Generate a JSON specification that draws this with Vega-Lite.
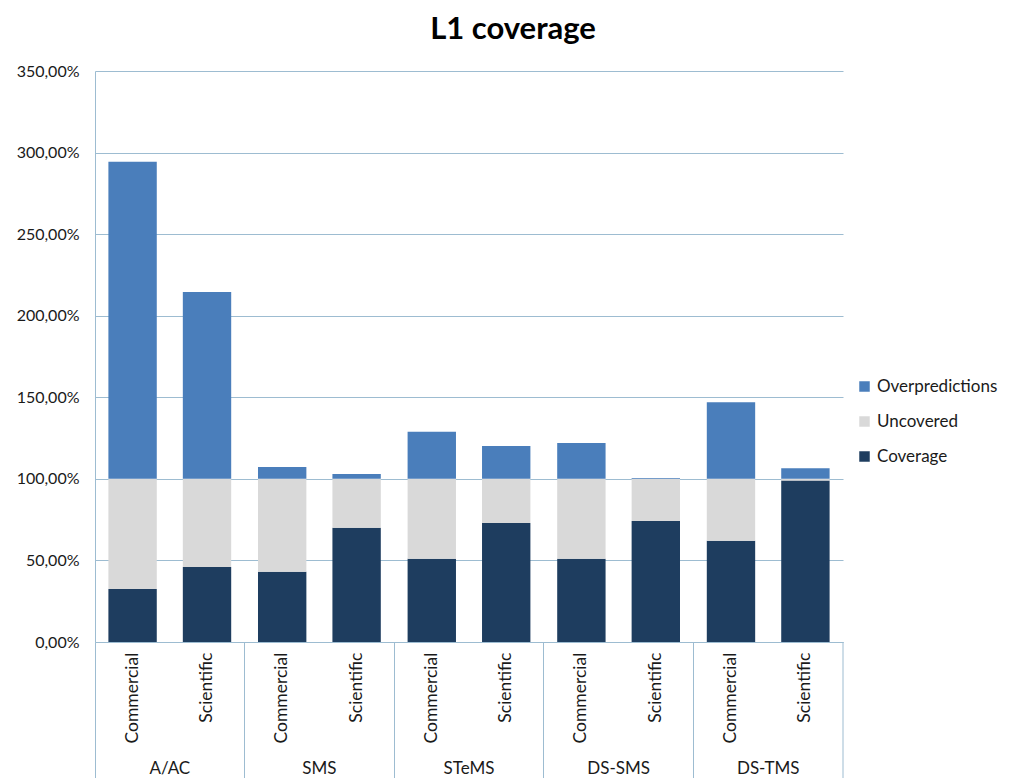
{
  "$schema": "https://vega.github.io/schema/vega-lite/v6.json",
  "width": 748,
  "height": 571,
  "autosize": "none",
  "padding": {"left": 95, "top": 71, "right": 167, "bottom": 136},
  "background": "white",
  "config": {
    "font": "Lato",
    "view": {"stroke": null}
  },
  "title": {
    "text": "L1 coverage",
    "fontSize": 31,
    "fontWeight": "bold",
    "font": "Lato",
    "color": "#000000",
    "anchor": "middle",
    "dx": 44,
    "offset": 17
  },
  "datasets": {
    "bars": [
      {"group": "A/AC", "type": "Commercial", "part": "Coverage", "ord": 1, "value": 0.325},
      {"group": "A/AC", "type": "Commercial", "part": "Uncovered", "ord": 2, "value": 0.675},
      {"group": "A/AC", "type": "Commercial", "part": "Overpredictions", "ord": 3, "value": 1.943},
      {"group": "A/AC", "type": "Scientific", "part": "Coverage", "ord": 1, "value": 0.46},
      {"group": "A/AC", "type": "Scientific", "part": "Uncovered", "ord": 2, "value": 0.54},
      {"group": "A/AC", "type": "Scientific", "part": "Overpredictions", "ord": 3, "value": 1.146},
      {"group": "SMS", "type": "Commercial", "part": "Coverage", "ord": 1, "value": 0.43},
      {"group": "SMS", "type": "Commercial", "part": "Uncovered", "ord": 2, "value": 0.57},
      {"group": "SMS", "type": "Commercial", "part": "Overpredictions", "ord": 3, "value": 0.073},
      {"group": "SMS", "type": "Scientific", "part": "Coverage", "ord": 1, "value": 0.70},
      {"group": "SMS", "type": "Scientific", "part": "Uncovered", "ord": 2, "value": 0.30},
      {"group": "SMS", "type": "Scientific", "part": "Overpredictions", "ord": 3, "value": 0.03},
      {"group": "STeMS", "type": "Commercial", "part": "Coverage", "ord": 1, "value": 0.51},
      {"group": "STeMS", "type": "Commercial", "part": "Uncovered", "ord": 2, "value": 0.49},
      {"group": "STeMS", "type": "Commercial", "part": "Overpredictions", "ord": 3, "value": 0.288},
      {"group": "STeMS", "type": "Scientific", "part": "Coverage", "ord": 1, "value": 0.73},
      {"group": "STeMS", "type": "Scientific", "part": "Uncovered", "ord": 2, "value": 0.27},
      {"group": "STeMS", "type": "Scientific", "part": "Overpredictions", "ord": 3, "value": 0.202},
      {"group": "DS-SMS", "type": "Commercial", "part": "Coverage", "ord": 1, "value": 0.51},
      {"group": "DS-SMS", "type": "Commercial", "part": "Uncovered", "ord": 2, "value": 0.49},
      {"group": "DS-SMS", "type": "Commercial", "part": "Overpredictions", "ord": 3, "value": 0.22},
      {"group": "DS-SMS", "type": "Scientific", "part": "Coverage", "ord": 1, "value": 0.742},
      {"group": "DS-SMS", "type": "Scientific", "part": "Uncovered", "ord": 2, "value": 0.258},
      {"group": "DS-SMS", "type": "Scientific", "part": "Overpredictions", "ord": 3, "value": 0.006},
      {"group": "DS-TMS", "type": "Commercial", "part": "Coverage", "ord": 1, "value": 0.62},
      {"group": "DS-TMS", "type": "Commercial", "part": "Uncovered", "ord": 2, "value": 0.38},
      {"group": "DS-TMS", "type": "Commercial", "part": "Overpredictions", "ord": 3, "value": 0.47},
      {"group": "DS-TMS", "type": "Scientific", "part": "Coverage", "ord": 1, "value": 0.99},
      {"group": "DS-TMS", "type": "Scientific", "part": "Uncovered", "ord": 2, "value": 0.01},
      {"group": "DS-TMS", "type": "Scientific", "part": "Overpredictions", "ord": 3, "value": 0.065}
    ],
    "labels": [
      {"group": "A/AC", "type": "Commercial"},
      {"group": "A/AC", "type": "Scientific"},
      {"group": "SMS", "type": "Commercial"},
      {"group": "SMS", "type": "Scientific"},
      {"group": "STeMS", "type": "Commercial"},
      {"group": "STeMS", "type": "Scientific"},
      {"group": "DS-SMS", "type": "Commercial"},
      {"group": "DS-SMS", "type": "Scientific"},
      {"group": "DS-TMS", "type": "Commercial"},
      {"group": "DS-TMS", "type": "Scientific"}
    ],
    "edge": [
      {"group": "DS-TMS"}
    ]
  },
  "layer": [
    {
      "data": {"name": "bars"},
      "mark": {"type": "bar"},
      "encoding": {
        "x": {
          "field": "group",
          "type": "nominal",
          "sort": ["A/AC", "SMS", "STeMS", "DS-SMS", "DS-TMS"],
          "scale": {"paddingInner": 0, "paddingOuter": 0},
          "axis": {
            "title": null,
            "labelAngle": 0,
            "labelFontSize": 17,
            "labelColor": "#1a1a1a",
            "labelPadding": -18,
            "labelBaseline": "top",
            "bandPosition": 0,
            "ticks": true,
            "tickSize": 136,
            "tickColor": "#9dbcd1",
            "tickWidth": 1,
            "domainColor": "#9dbcd1",
            "domainWidth": 1,
            "grid": false
          }
        },
        "xOffset": {
          "field": "type",
          "type": "nominal",
          "sort": ["Commercial", "Scientific"],
          "scale": {"paddingInner": 0.35, "paddingOuter": 0.18}
        },
        "y": {
          "field": "value",
          "type": "quantitative",
          "stack": "zero",
          "scale": {"domain": [0, 3.5], "nice": false, "zero": true},
          "axis": {
            "title": null,
            "values": [0, 0.5, 1, 1.5, 2, 2.5, 3, 3.5],
            "labelExpr": "replace(format(datum.value, '.2%'), '.', ',')",
            "labelFontSize": 16,
            "labelColor": "#1a1a1a",
            "labelPadding": 16,
            "ticks": false,
            "domainColor": "#9dbcd1",
            "grid": true,
            "gridColor": "#9dbcd1",
            "gridWidth": 1
          }
        },
        "color": {
          "field": "part",
          "type": "nominal",
          "scale": {
            "domain": ["Overpredictions", "Uncovered", "Coverage"],
            "range": ["#4a7ebb", "#d9d9d9", "#1e3d5f"]
          },
          "legend": {
            "title": null,
            "orient": "none",
            "legendX": 761,
            "legendY": 307,
            "symbolType": "square",
            "symbolSize": 110,
            "symbolStrokeWidth": 0,
            "labelFontSize": 17,
            "labelColor": "#1a1a1a",
            "labelOffset": 4,
            "rowPadding": 17
          }
        },
        "order": {"field": "ord", "type": "quantitative", "sort": "ascending"}
      }
    },
    {
      "data": {"name": "labels"},
      "mark": {"type": "text", "angle": 270, "align": "right", "baseline": "middle", "fontSize": 17.5, "color": "#1a1a1a"},
      "encoding": {
        "x": {"field": "group", "type": "nominal", "sort": ["A/AC", "SMS", "STeMS", "DS-SMS", "DS-TMS"]},
        "xOffset": {"field": "type", "type": "nominal", "sort": ["Commercial", "Scientific"]},
        "y": {"datum": -0.065},
        "text": {"field": "type"}
      }
    },
    {
      "data": {"name": "edge"},
      "mark": {"type": "rule", "color": "#9dbcd1", "strokeWidth": 1},
      "encoding": {
        "x": {"field": "group", "type": "nominal", "bandPosition": 1, "sort": ["A/AC", "SMS", "STeMS", "DS-SMS", "DS-TMS"]},
        "y": {"datum": 0},
        "y2": {"datum": -0.84}
      }
    }
  ]
}
